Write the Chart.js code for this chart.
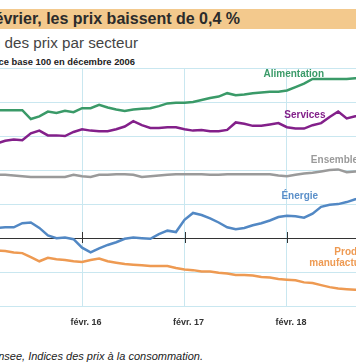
<!DOCTYPE html>
<html><head><meta charset="utf-8">
<script src="https://cdn.jsdelivr.net/npm/chart.js@4.4.1/dist/chart.umd.min.js"></script>
<style>
html,body{margin:0;padding:0;width:356px;height:364px;overflow:hidden;background:#fff;font-family:"Liberation Sans",Arial,sans-serif;}
.bar{position:absolute;left:0;top:9px;width:356px;height:20px;background:#f3c98d;}
.t{position:absolute;white-space:nowrap;text-align:right;}
#title{right:116px;top:9px;height:20px;line-height:20px;font-weight:bold;font-size:16px;color:#2b2b2b;}
#sub{right:218px;top:34px;line-height:18px;font-size:15.2px;color:#444;}
#unit{right:221px;top:56px;line-height:12px;font-size:9.4px;font-weight:bold;color:#222;}
#src{right:153px;top:349px;line-height:14px;font-size:11px;font-style:italic;color:#222;}
#cv{position:absolute;left:-46px;top:68px;}
</style></head>
<body>
<div class="bar"></div>
<div class="t" id="title">En février, les prix baissent de 0,4 %</div>
<div class="t" id="sub">Évolution des prix par secteur</div>
<div class="t" id="unit">Indice base 100 en décembre 2006</div>
<canvas id="cv"></canvas>
<div class="t" id="src">Source : Insee, Indices des prix à la consommation.</div>
<script>
const months = ['2015-04','2015-05','2015-06','2015-07','2015-08','2015-09','2015-10','2015-11','2015-12','2016-01',
'2016-02','2016-03','2016-04','2016-05','2016-06','2016-07','2016-08','2016-09','2016-10','2016-11','2016-12','2017-01',
'2017-02','2017-03','2017-04','2017-05','2017-06','2017-07','2017-08','2017-09','2017-10','2017-11','2017-12','2018-01',
'2018-02','2018-03','2018-04','2018-05','2018-06','2018-07','2018-08','2018-09','2018-10','2018-11'];

const alimentation = [118.8,118.8,118.8,118.8,117.5,117.9,118.6,118.4,118.7,118.5,
119.1,119.1,119.6,119.2,118.9,118.7,118.9,119.0,119.1,119.4,119.8,119.9,
119.9,120.0,120.3,120.6,120.8,121.3,121.0,121.1,121.3,121.4,121.5,121.5,
121.7,122.2,122.7,123.4,123.4,123.4,123.4,123.4,123.5,123.5];

const services = [113.9,114.3,114.5,114.4,115.4,115.8,115.1,115.1,115.0,115.6,
116.0,115.8,115.7,115.7,116.0,116.4,117.2,116.6,116.2,116.2,116.3,116.3,
116.0,115.8,115.9,115.7,115.7,115.9,117.0,116.8,116.5,116.5,116.7,116.9,
116.3,116.1,116.1,116.6,116.9,117.8,118.6,117.6,117.9,118.0];

const ensemble = [109.3,109.3,109.2,109.1,109.0,109.0,109.0,109.0,109.0,109.3,
109.1,109.0,109.3,109.3,109.4,109.4,109.3,109.0,109.1,109.2,109.3,109.4,
109.4,109.4,109.4,109.3,109.3,109.4,109.4,109.4,109.4,109.4,109.4,109.2,
109.1,109.3,109.5,109.6,109.8,110.0,110.1,109.7,109.8,109.8];

const energie = [101.5,101.6,101.6,102.2,102.3,101.5,100.4,100.0,100.1,99.85,
98.6,97.9,98.5,99.0,99.4,99.9,100.1,100.0,99.9,100.6,101.1,100.9,
102.7,103.7,103.4,102.9,102.3,101.6,101.3,101.5,101.9,102.2,102.6,103.1,
103.3,103.2,103.0,103.6,104.6,104.9,105.0,105.3,105.7,105.8];

const produits = [98.2,98.1,97.9,97.8,97.2,96.6,97.1,96.9,96.8,96.6,
96.5,96.8,97.0,96.6,96.4,96.2,96.1,96.0,95.9,95.9,95.9,95.6,
95.4,95.3,95.1,95.1,94.9,94.8,94.6,94.6,94.5,94.3,94.2,94.0,
93.9,93.8,93.5,93.4,93.1,92.8,92.6,92.5,92.4,92.4];

const tickMonths = ['2015-02','2016-02','2017-02','2018-02','2019-02'];
const tickLabels = ['févr. 15','févr. 16','févr. 17','févr. 18','févr. 19'];
const yTicks = [90,95,100,105,110,115,120,125];

function mi(s){const p=s.split('-').map(Number);return (p[0]-2015)*12+(p[1]-2);}
function pts(arr){return arr.map((v,i)=>({x:mi(months[i]),y:v}));}

Chart.defaults.font.family='"Liberation Sans", Arial, sans-serif';
const GRID='#c9e7f0';

const seriesLabels = [
  {lines:['Alimentation'], m:36.8, v:124.1, align:'center', color:'#3a9a68'},
  {lines:['Services'], m:38.1, v:118.1, align:'center', color:'#83208a'},
  {lines:['Ensemble'], m:38.8, v:111.5, align:'left', color:'#9a9a9a'},
  {lines:['Énergie'], m:37.5, v:106.2, align:'center', color:'#5a8fc9'},
  {lines:['Produits','manufacturés'], m:46.3, v:98.0, align:'right', color:'#ee9a52'}
];

const deco = {
  id:'deco',
  beforeDatasetsDraw(chart){
    const c=chart.ctx, xs=chart.scales.x, ys=chart.scales.y;
    const y0=Math.round(ys.getPixelForValue(100));
    c.save(); c.strokeStyle='#333'; c.lineWidth=1; c.beginPath();
    tickMonths.forEach(t=>{const x=Math.round(xs.getPixelForValue(mi(t)))+0.5; c.moveTo(x,y0-6); c.lineTo(x,y0+5);});
    c.stroke(); c.restore();
  },
  afterDatasetsDraw(chart){
    const c=chart.ctx, xs=chart.scales.x, ys=chart.scales.y;
    c.save(); c.font='bold 10px "Liberation Sans", Arial, sans-serif'; c.textBaseline='middle';
    seriesLabels.forEach(l=>{
      c.fillStyle=l.color; c.textAlign=l.align;
      const x=xs.getPixelForValue(l.m), y=ys.getPixelForValue(l.v);
      l.lines.forEach((s,i)=>c.fillText(s,x,y+i*11));
    });
    c.restore();
  }
};

function ds(data,color){return {data:pts(data),borderColor:color,borderWidth:2.5,pointRadius:0,tension:0,fill:false};}

const cv=document.getElementById('cv');
function build(w,h){
  cv.width=w; cv.height=h; cv.style.width=w+'px'; cv.style.height=h+'px';
  return new Chart(cv,{
    type:'line',
    data:{datasets:[ds(ensemble,'#9a9a9a'),ds(produits,'#ee9a52'),ds(energie,'#5288c4'),ds(services,'#83208a'),ds(alimentation,'#3a9a68')]},
    options:{
      responsive:false, animation:false, events:[],
      layout:{padding:0},
      plugins:{legend:{display:false},tooltip:{enabled:false},title:{display:false}},
      scales:{
        x:{type:'linear',min:-3,max:51,
          afterBuildTicks:s=>{s.ticks=tickMonths.map(t=>({value:mi(t)}));},
          ticks:{callback:(v,i)=>tickLabels[i],autoSkip:false,maxRotation:0,labelOffset:4,color:'#333',font:{size:9,weight:'bold'}},
          grid:{color:GRID,tickColor:'rgba(0,0,0,0)',tickLength:8},
          border:{display:false}},
        y:{min:90,max:125,
          afterBuildTicks:s=>{s.ticks=yTicks.map(v=>({value:v}));},
          ticks:{display:false},
          grid:{drawTicks:false,color:c=>(c.tick&&c.tick.value===100)?'#333':GRID},
          border:{display:false}}
      }
    },
    plugins:[deco]
  });
}
let W=461,H=260;
let chart=build(W,H);
let a=chart.chartArea;
const nW=W+Math.round(461.25-(a.right-a.left));
const nH=H+Math.round(238-(a.bottom-a.top));
if(nW!==W||nH!==H){chart.destroy(); chart=build(nW,nH);}
const xs=chart.scales.x, ys=chart.scales.y;
cv.style.left=Math.round(82-xs.getPixelForValue(12))+'px';
cv.style.top=Math.round(238-ys.getPixelForValue(100))+'px';
</script>
</body></html>
